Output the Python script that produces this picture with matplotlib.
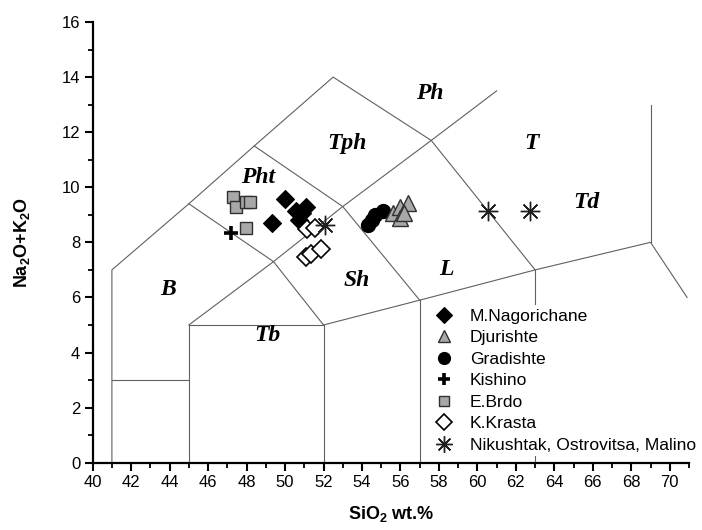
import matplotlib
matplotlib.use("Agg")
import matplotlib.pyplot as plt
from matplotlib.ticker import MultipleLocator

plt.rcParams['font.family'] = ['Liberation Sans', 'DejaVu Sans']
plt.rcParams['mathtext.fontset'] = 'custom'
plt.rcParams['mathtext.rm'] = 'Liberation Sans:bold'
plt.rcParams['mathtext.bf'] = 'Liberation Sans:bold'

# ---- TAS boundary lines (SiO2, Na2O+K2O vertices) ----
boundaries = [
    [(41, 0), (41, 7), (45, 9.4), (48.4, 11.5), (52.5, 14), (57.6, 11.7),
     (63, 7), (69, 8), (70.9, 6.0)],
    [(41, 3), (45, 3)],
    [(45, 0), (45, 5), (52, 5), (52, 0)],
    [(45, 9.4), (49.4, 7.3), (45, 5)],
    [(49.4, 7.3), (52, 5)],
    [(49.4, 7.3), (53, 9.3), (57.6, 11.7), (61, 13.5)],
    [(48.4, 11.5), (53, 9.3), (57, 5.9)],
    [(52, 5), (57, 5.9), (63, 7)],
    [(57, 0), (57, 5.9)],
    [(63, 0), (63, 7)],
    [(69, 8), (69, 13)],
]

field_names = ['Ph', 'Tph', 'T', 'Pht', 'Td', 'L', 'Sh', 'B', 'Tb']
field_x = [57.5, 53.2, 62.8, 48.6, 65.65, 58.4, 53.7, 43.9, 49.1]
field_y = [13.4, 11.6, 11.6, 10.35, 9.45, 7.0, 6.6, 6.3, 4.6]

# ---- samples ----
nag_x = [49.98, 49.32, 50.55, 51.1, 50.75, 50.9]
nag_y = [9.56, 8.72, 9.13, 9.3, 8.82, 9.05]

dju_x = [55.6, 56.0, 56.4, 56.0, 56.2]
dju_y = [9.05, 9.28, 9.42, 8.88, 9.08]

gra_x = [54.3, 54.5, 54.68, 55.08]
gra_y = [8.62, 8.82, 9.0, 9.15]

kis_x = [47.2]
kis_y = [8.35]

ebr_x = [47.3, 47.47, 47.99, 48.16, 47.99]
ebr_y = [9.64, 9.3, 9.48, 9.48, 8.51]

kk_x = [51.15, 51.55, 51.1, 51.37, 51.88]
kk_y = [8.5, 8.53, 7.48, 7.56, 7.75]

nik_x = [52.06, 60.55, 62.72]
nik_y = [8.62, 9.12, 9.12]

fig = plt.figure(figsize=(7.02, 5.30), dpi=100)
ax = fig.add_axes([0.132, 0.127, 0.8495, 0.8315])

for seg in boundaries:
    xs = [p[0] for p in seg]
    ys = [p[1] for p in seg]
    ax.plot(xs, ys, color='#606060', lw=0.8, zorder=1)

for name, fx, fy in zip(field_names, field_x, field_y):
    ax.text(fx, fy, name, fontsize=17, fontweight='bold', fontstyle='italic',
            family='Liberation Serif', ha='center', va='center', zorder=2)

ax.plot(ebr_x, ebr_y, 's', ms=8.5, mfc='#a8a8a8', mec='#303030', mew=1.0,
        ls='none', label='E.Brdo', zorder=3)
ax.plot(kis_x, kis_y, '+', ms=10, mec='black', mew=2.6, ls='none',
        label='Kishino', zorder=4)
ax.plot(nag_x, nag_y, 'D', ms=9.5, mfc='black', mec='black', mew=0.8,
        ls='none', label='M.Nagorichane', zorder=4)
ax.plot(kk_x, kk_y, 'D', ms=9.5, mfc='white', mec='black', mew=1.2,
        ls='none', label='K.Krasta', zorder=5)
ax.plot(gra_x, gra_y, 'o', ms=10, mfc='black', mec='black',
        ls='none', label='Gradishte', zorder=4)
ax.plot(dju_x, dju_y, '^', ms=11, mfc='#a8a8a8', mec='#303030', mew=1.0,
        ls='none', label='Djurishte', zorder=5)
ax.plot(nik_x, nik_y, marker=(8, 2, 0), ms=14, mec='#202020', mew=1.0,
        ls='none', label='Nikushtak, Ostrovitsa, Malino', zorder=6)

handles, labels = ax.get_legend_handles_labels()
order = ['M.Nagorichane', 'Djurishte', 'Gradishte', 'Kishino', 'E.Brdo',
         'K.Krasta', 'Nikushtak, Ostrovitsa, Malino']
hmap = dict(zip(labels, handles))
leg = ax.legend([hmap[k] for k in order], order, loc='upper left',
                bbox_to_anchor=(0.565, 0.358), frameon=True, fontsize=12.6,
                handlelength=1.2, handletextpad=0.9, labelspacing=0.36,
                borderpad=0.2, borderaxespad=0, markerscale=0.85)
leg.get_frame().set_edgecolor('none')
leg.get_frame().set_facecolor('white')
leg.get_frame().set_alpha(1)
leg.set_zorder(10)

ax.set_xlim(40, 71)
ax.set_ylim(0, 16)
ax.xaxis.set_major_locator(MultipleLocator(2))
ax.xaxis.set_minor_locator(MultipleLocator(1))
ax.yaxis.set_major_locator(MultipleLocator(2))
ax.yaxis.set_minor_locator(MultipleLocator(1))
ax.spines['top'].set_visible(False)
ax.spines['right'].set_visible(False)
for s in ('left', 'bottom'):
    ax.spines[s].set_linewidth(1.6)
ax.tick_params(which='major', direction='out', length=6, width=1.5,
               labelsize=12, pad=3)
ax.tick_params(which='minor', direction='out', length=3.5, width=1.3)

ax.set_xlabel(r'SiO$_2$ wt.%', fontsize=13, fontweight='bold', labelpad=10)
ax.set_ylabel(r'Na$_2$O+K$_2$O', fontsize=13, fontweight='bold', labelpad=21)

fig.savefig('out.png', dpi=100)
